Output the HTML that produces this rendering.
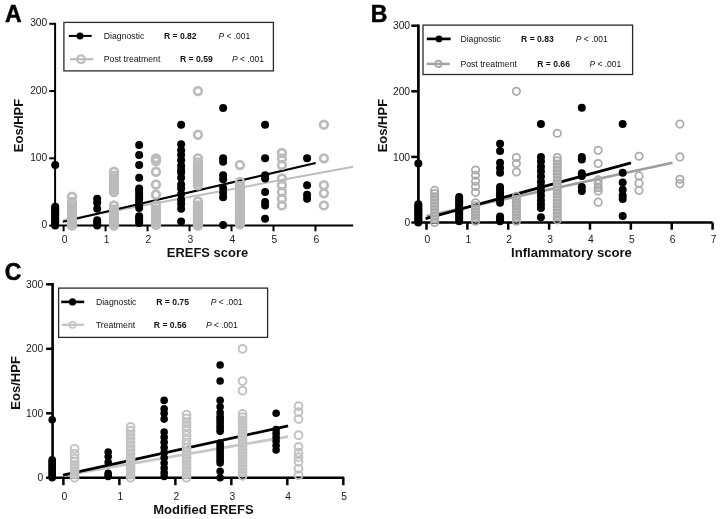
<!DOCTYPE html>
<html><head><meta charset="utf-8"><title>Figure</title>
<style>
html,body{margin:0;padding:0;background:#fff;}
body{width:720px;height:519px;overflow:hidden;}
svg{display:block;font-family:"Liberation Sans", sans-serif;will-change:transform;}
</style></head>
<body>
<svg width="720" height="519" viewBox="0 0 720 519">
<rect width="720" height="519" fill="#fff"/>
<g><text transform="translate(5,21.8) scale(1.0,1)" font-size="23" font-weight="bold" fill="#000" stroke="#000" stroke-width="0.5">A</text>
<line x1="55.1" y1="22.79" x2="55.1" y2="225.6" stroke="#000" stroke-width="2.0"/>
<line x1="49.2" y1="225.6" x2="55.1" y2="225.6" stroke="#000" stroke-width="2.0"/>
<text transform="translate(47.3,228.3) scale(1.03,1.0)" font-size="10.0" text-anchor="end" fill="#1a1a1a">0</text>
<line x1="49.2" y1="158.33" x2="55.1" y2="158.33" stroke="#000" stroke-width="2.0"/>
<text transform="translate(47.3,161.03) scale(1.03,1.0)" font-size="10.0" text-anchor="end" fill="#1a1a1a">100</text>
<line x1="49.2" y1="91.06" x2="55.1" y2="91.06" stroke="#000" stroke-width="2.0"/>
<text transform="translate(47.3,93.76) scale(1.03,1.0)" font-size="10.0" text-anchor="end" fill="#1a1a1a">200</text>
<line x1="49.2" y1="23.79" x2="55.1" y2="23.79" stroke="#000" stroke-width="2.0"/>
<text transform="translate(47.3,26.49) scale(1.03,1.0)" font-size="10.0" text-anchor="end" fill="#1a1a1a">300</text>
<line x1="54.1" y1="225.6" x2="353.2" y2="225.6" stroke="#000" stroke-width="2.0" stroke-linecap="butt"/>
<line x1="63.6" y1="225.6" x2="63.6" y2="231.3" stroke="#000" stroke-width="2.0"/>
<text transform="translate(64.5,242.7) scale(1.03,1.0)" font-size="10.0" text-anchor="middle" fill="#1a1a1a">0</text>
<line x1="105.58" y1="225.6" x2="105.58" y2="231.3" stroke="#000" stroke-width="2.0"/>
<text transform="translate(106.48,242.7) scale(1.03,1.0)" font-size="10.0" text-anchor="middle" fill="#1a1a1a">1</text>
<line x1="147.56" y1="225.6" x2="147.56" y2="231.3" stroke="#000" stroke-width="2.0"/>
<text transform="translate(148.46,242.7) scale(1.03,1.0)" font-size="10.0" text-anchor="middle" fill="#1a1a1a">2</text>
<line x1="189.54" y1="225.6" x2="189.54" y2="231.3" stroke="#000" stroke-width="2.0"/>
<text transform="translate(190.44,242.7) scale(1.03,1.0)" font-size="10.0" text-anchor="middle" fill="#1a1a1a">3</text>
<line x1="231.52" y1="225.6" x2="231.52" y2="231.3" stroke="#000" stroke-width="2.0"/>
<text transform="translate(232.42,242.7) scale(1.03,1.0)" font-size="10.0" text-anchor="middle" fill="#1a1a1a">4</text>
<line x1="273.5" y1="225.6" x2="273.5" y2="231.3" stroke="#000" stroke-width="2.0"/>
<text transform="translate(274.4,242.7) scale(1.03,1.0)" font-size="10.0" text-anchor="middle" fill="#1a1a1a">5</text>
<line x1="315.48" y1="225.6" x2="315.48" y2="231.3" stroke="#000" stroke-width="2.0"/>
<text transform="translate(316.38,242.7) scale(1.03,1.0)" font-size="10.0" text-anchor="middle" fill="#1a1a1a">6</text>
<text transform="translate(23.2,125.5) rotate(-90)" font-size="13.0" font-weight="bold" text-anchor="middle" fill="#111">Eos/HPF</text>
<text x="207.5" y="256.9" font-size="12.95" font-weight="bold" text-anchor="middle" fill="#111">EREFS score</text>
<line x1="63" y1="220.3" x2="353.2" y2="166.8" stroke="#bdbdbd" stroke-width="2.0"/>
<line x1="62.9" y1="221.8" x2="315.7" y2="163" stroke="#000" stroke-width="2.0"/>
<g fill="#000"><circle cx="55.2" cy="165.06" r="4.0"/><circle cx="55.2" cy="225.6" r="4.0"/><circle cx="55.2" cy="223.89" r="4.0"/><circle cx="55.2" cy="222.18" r="4.0"/><circle cx="55.2" cy="220.46" r="4.0"/><circle cx="55.2" cy="218.75" r="4.0"/><circle cx="55.2" cy="217.04" r="4.0"/><circle cx="55.2" cy="215.33" r="4.0"/><circle cx="55.2" cy="213.61" r="4.0"/><circle cx="55.2" cy="211.9" r="4.0"/><circle cx="55.2" cy="210.19" r="4.0"/><circle cx="55.2" cy="208.48" r="4.0"/><circle cx="55.2" cy="206.76" r="4.0"/><circle cx="97.18" cy="198.69" r="4.0"/><circle cx="97.18" cy="202.73" r="4.0"/><circle cx="97.18" cy="208.78" r="4.0"/><circle cx="97.18" cy="220.22" r="4.0"/><circle cx="97.18" cy="222.24" r="4.0"/><circle cx="97.18" cy="224.25" r="4.0"/><circle cx="97.18" cy="225.6" r="4.0"/><circle cx="139.16" cy="144.88" r="4.0"/><circle cx="139.16" cy="154.97" r="4.0"/><circle cx="139.16" cy="165.06" r="4.0"/><circle cx="139.16" cy="177.84" r="4.0"/><circle cx="139.16" cy="188.6" r="4.0"/><circle cx="139.16" cy="208.11" r="4.0"/><circle cx="139.16" cy="205.19" r="4.0"/><circle cx="139.16" cy="202.28" r="4.0"/><circle cx="139.16" cy="199.36" r="4.0"/><circle cx="139.16" cy="196.45" r="4.0"/><circle cx="139.16" cy="193.53" r="4.0"/><circle cx="139.16" cy="190.62" r="4.0"/><circle cx="139.16" cy="222.91" r="4.0"/><circle cx="139.16" cy="220.67" r="4.0"/><circle cx="139.16" cy="218.42" r="4.0"/><circle cx="139.16" cy="216.18" r="4.0"/><circle cx="181.14" cy="124.69" r="4.0"/><circle cx="181.14" cy="144.2" r="4.0"/><circle cx="181.14" cy="150.26" r="4.0"/><circle cx="181.14" cy="154.97" r="4.0"/><circle cx="181.14" cy="160.35" r="4.0"/><circle cx="181.14" cy="165.73" r="4.0"/><circle cx="181.14" cy="169.77" r="4.0"/><circle cx="181.14" cy="172.46" r="4.0"/><circle cx="181.14" cy="177.84" r="4.0"/><circle cx="181.14" cy="184.57" r="4.0"/><circle cx="181.14" cy="188.6" r="4.0"/><circle cx="181.14" cy="193.98" r="4.0"/><circle cx="181.14" cy="200.04" r="4.0"/><circle cx="181.14" cy="204.07" r="4.0"/><circle cx="181.14" cy="208.78" r="4.0"/><circle cx="181.14" cy="221.56" r="4.0"/><circle cx="223.12" cy="107.88" r="4.0"/><circle cx="223.12" cy="158.33" r="4.0"/><circle cx="223.12" cy="161.69" r="4.0"/><circle cx="223.12" cy="175.15" r="4.0"/><circle cx="223.12" cy="179.18" r="4.0"/><circle cx="223.12" cy="187.93" r="4.0"/><circle cx="223.12" cy="192.64" r="4.0"/><circle cx="223.12" cy="197.35" r="4.0"/><circle cx="223.12" cy="224.93" r="4.0"/><circle cx="265.1" cy="124.69" r="4.0"/><circle cx="265.1" cy="158.33" r="4.0"/><circle cx="265.1" cy="175.15" r="4.0"/><circle cx="265.1" cy="178.51" r="4.0"/><circle cx="265.1" cy="191.97" r="4.0"/><circle cx="265.1" cy="202.06" r="4.0"/><circle cx="265.1" cy="205.42" r="4.0"/><circle cx="265.1" cy="218.87" r="4.0"/><circle cx="307.08" cy="158.33" r="4.0"/><circle cx="307.08" cy="185.24" r="4.0"/><circle cx="307.08" cy="194.66" r="4.0"/><circle cx="307.08" cy="198.69" r="4.0"/></g>
<g fill="#cdcdcd"><rect x="68.15" y="205.91" width="7.7" height="19.69"/><rect x="110.13" y="209.27" width="7.7" height="16.33"/><rect x="110.13" y="175.63" width="7.7" height="16.33"/><rect x="152.11" y="209.27" width="7.7" height="15.66"/><rect x="194.09" y="205.23" width="7.7" height="20.37"/><rect x="194.09" y="162.18" width="7.7" height="23.06"/><rect x="236.07" y="185.72" width="7.7" height="38.53"/></g>
<g fill="none" stroke="#bbbbbb" stroke-width="2.7"><circle cx="72" cy="225.6" r="3.85"/><circle cx="72" cy="222.81" r="3.85"/><circle cx="72" cy="220.03" r="3.85"/><circle cx="72" cy="217.24" r="3.85"/><circle cx="72" cy="214.45" r="3.85"/><circle cx="72" cy="211.67" r="3.85"/><circle cx="72" cy="208.88" r="3.85"/><circle cx="72" cy="206.09" r="3.85"/><circle cx="72" cy="202.06" r="3.85"/><circle cx="72" cy="196.67" r="3.85"/><circle cx="113.98" cy="225.6" r="3.85"/><circle cx="113.98" cy="222.91" r="3.85"/><circle cx="113.98" cy="220.22" r="3.85"/><circle cx="113.98" cy="217.53" r="3.85"/><circle cx="113.98" cy="214.84" r="3.85"/><circle cx="113.98" cy="212.15" r="3.85"/><circle cx="113.98" cy="209.46" r="3.85"/><circle cx="113.98" cy="205.42" r="3.85"/><circle cx="113.98" cy="191.97" r="3.85"/><circle cx="113.98" cy="189.27" r="3.85"/><circle cx="113.98" cy="186.58" r="3.85"/><circle cx="113.98" cy="183.89" r="3.85"/><circle cx="113.98" cy="181.2" r="3.85"/><circle cx="113.98" cy="178.51" r="3.85"/><circle cx="113.98" cy="175.82" r="3.85"/><circle cx="113.98" cy="171.78" r="3.85"/><circle cx="155.96" cy="224.93" r="3.85"/><circle cx="155.96" cy="222.35" r="3.85"/><circle cx="155.96" cy="219.77" r="3.85"/><circle cx="155.96" cy="217.19" r="3.85"/><circle cx="155.96" cy="214.61" r="3.85"/><circle cx="155.96" cy="212.03" r="3.85"/><circle cx="155.96" cy="209.46" r="3.85"/><circle cx="155.96" cy="205.42" r="3.85"/><circle cx="155.96" cy="194.66" r="3.85"/><circle cx="155.96" cy="184.57" r="3.85"/><circle cx="155.96" cy="171.78" r="3.85"/><circle cx="155.96" cy="161.02" r="3.85"/><circle cx="155.96" cy="158.33" r="3.85"/><circle cx="197.94" cy="225.6" r="3.85"/><circle cx="197.94" cy="223.08" r="3.85"/><circle cx="197.94" cy="220.55" r="3.85"/><circle cx="197.94" cy="218.03" r="3.85"/><circle cx="197.94" cy="215.51" r="3.85"/><circle cx="197.94" cy="212.99" r="3.85"/><circle cx="197.94" cy="210.46" r="3.85"/><circle cx="197.94" cy="207.94" r="3.85"/><circle cx="197.94" cy="205.42" r="3.85"/><circle cx="197.94" cy="201.38" r="3.85"/><circle cx="197.94" cy="185.24" r="3.85"/><circle cx="197.94" cy="182.38" r="3.85"/><circle cx="197.94" cy="179.52" r="3.85"/><circle cx="197.94" cy="176.66" r="3.85"/><circle cx="197.94" cy="173.8" r="3.85"/><circle cx="197.94" cy="170.94" r="3.85"/><circle cx="197.94" cy="168.08" r="3.85"/><circle cx="197.94" cy="165.23" r="3.85"/><circle cx="197.94" cy="162.37" r="3.85"/><circle cx="197.94" cy="158.33" r="3.85"/><circle cx="197.94" cy="134.79" r="3.85"/><circle cx="197.94" cy="91.06" r="3.85"/><circle cx="239.92" cy="224.25" r="3.85"/><circle cx="239.92" cy="221.52" r="3.85"/><circle cx="239.92" cy="218.78" r="3.85"/><circle cx="239.92" cy="216.04" r="3.85"/><circle cx="239.92" cy="213.3" r="3.85"/><circle cx="239.92" cy="210.56" r="3.85"/><circle cx="239.92" cy="207.82" r="3.85"/><circle cx="239.92" cy="205.08" r="3.85"/><circle cx="239.92" cy="202.34" r="3.85"/><circle cx="239.92" cy="199.6" r="3.85"/><circle cx="239.92" cy="196.87" r="3.85"/><circle cx="239.92" cy="194.13" r="3.85"/><circle cx="239.92" cy="191.39" r="3.85"/><circle cx="239.92" cy="188.65" r="3.85"/><circle cx="239.92" cy="185.91" r="3.85"/><circle cx="239.92" cy="181.87" r="3.85"/><circle cx="239.92" cy="165.06" r="3.85"/><circle cx="281.9" cy="205.42" r="3.85"/><circle cx="281.9" cy="198.69" r="3.85"/><circle cx="281.9" cy="191.97" r="3.85"/><circle cx="281.9" cy="185.24" r="3.85"/><circle cx="281.9" cy="178.51" r="3.85"/><circle cx="281.9" cy="165.06" r="3.85"/><circle cx="281.9" cy="158.33" r="3.85"/><circle cx="281.9" cy="152.95" r="3.85"/><circle cx="323.88" cy="205.42" r="3.85"/><circle cx="323.88" cy="193.31" r="3.85"/><circle cx="323.88" cy="185.24" r="3.85"/><circle cx="323.88" cy="158.33" r="3.85"/><circle cx="323.88" cy="124.69" r="3.85"/></g>
<rect x="63.9" y="22.4" width="209.5" height="48.5" fill="#fff" stroke="#2a2a2a" stroke-width="1.3"/>
<line x1="68.8" y1="35.9" x2="91.7" y2="35.9" stroke="#000" stroke-width="2.0"/>
<circle cx="80" cy="35.9" r="3.5" fill="#000"/>
<text x="103.8" y="39" font-size="8.7" fill="#111">Diagnostic</text>
<text x="163.9" y="39" font-size="8.6" font-weight="bold" fill="#111">R = 0.82</text>
<text x="218.4" y="39" font-size="8.5" fill="#111"><tspan font-style="italic">P</tspan> &lt; .001</text>
<line x1="70" y1="59.2" x2="93" y2="59.2" stroke="#bcbcbc" stroke-width="2.2"/>
<circle cx="81" cy="59.2" r="3.85" fill="none" stroke="#bcbcbc" stroke-width="2.3"/>
<text x="103.8" y="61.8" font-size="8.7" fill="#111">Post treatment</text>
<text x="180" y="61.8" font-size="8.6" font-weight="bold" fill="#111">R = 0.59</text>
<text x="232" y="61.8" font-size="8.5" fill="#111"><tspan font-style="italic">P</tspan> &lt; .001</text></g>
<g><text transform="translate(370.8,21.5) scale(1.0,1)" font-size="23" font-weight="bold" fill="#000" stroke="#000" stroke-width="0.5">B</text>
<line x1="418.4" y1="24.45" x2="418.4" y2="222.5" stroke="#000" stroke-width="2.7"/>
<line x1="411.3" y1="222.5" x2="418.4" y2="222.5" stroke="#000" stroke-width="2.5"/>
<text transform="translate(410.1,226.2) scale(1.03,1.0)" font-size="10.0" text-anchor="end" fill="#1a1a1a">0</text>
<line x1="411.3" y1="156.9" x2="418.4" y2="156.9" stroke="#000" stroke-width="2.5"/>
<text transform="translate(410.1,160.6) scale(1.03,1.0)" font-size="10.0" text-anchor="end" fill="#1a1a1a">100</text>
<line x1="411.3" y1="91.3" x2="418.4" y2="91.3" stroke="#000" stroke-width="2.5"/>
<text transform="translate(410.1,95) scale(1.03,1.0)" font-size="10.0" text-anchor="end" fill="#1a1a1a">200</text>
<line x1="411.3" y1="25.7" x2="418.4" y2="25.7" stroke="#000" stroke-width="2.5"/>
<text transform="translate(410.1,29.4) scale(1.03,1.0)" font-size="10.0" text-anchor="end" fill="#1a1a1a">300</text>
<line x1="417.05" y1="222.5" x2="712.6" y2="222.5" stroke="#000" stroke-width="2.7" stroke-linecap="butt"/>
<line x1="426.5" y1="222.5" x2="426.5" y2="229.7" stroke="#000" stroke-width="2.5"/>
<text transform="translate(427.4,242.7) scale(1.03,1.0)" font-size="10.0" text-anchor="middle" fill="#1a1a1a">0</text>
<line x1="467.37" y1="222.5" x2="467.37" y2="229.7" stroke="#000" stroke-width="2.5"/>
<text transform="translate(468.27,242.7) scale(1.03,1.0)" font-size="10.0" text-anchor="middle" fill="#1a1a1a">1</text>
<line x1="508.24" y1="222.5" x2="508.24" y2="229.7" stroke="#000" stroke-width="2.5"/>
<text transform="translate(509.14,242.7) scale(1.03,1.0)" font-size="10.0" text-anchor="middle" fill="#1a1a1a">2</text>
<line x1="549.11" y1="222.5" x2="549.11" y2="229.7" stroke="#000" stroke-width="2.5"/>
<text transform="translate(550.01,242.7) scale(1.03,1.0)" font-size="10.0" text-anchor="middle" fill="#1a1a1a">3</text>
<line x1="589.98" y1="222.5" x2="589.98" y2="229.7" stroke="#000" stroke-width="2.5"/>
<text transform="translate(590.88,242.7) scale(1.03,1.0)" font-size="10.0" text-anchor="middle" fill="#1a1a1a">4</text>
<line x1="630.85" y1="222.5" x2="630.85" y2="229.7" stroke="#000" stroke-width="2.5"/>
<text transform="translate(631.75,242.7) scale(1.03,1.0)" font-size="10.0" text-anchor="middle" fill="#1a1a1a">5</text>
<line x1="671.72" y1="222.5" x2="671.72" y2="229.7" stroke="#000" stroke-width="2.5"/>
<text transform="translate(672.62,242.7) scale(1.03,1.0)" font-size="10.0" text-anchor="middle" fill="#1a1a1a">6</text>
<line x1="712.59" y1="222.5" x2="712.59" y2="229.7" stroke="#000" stroke-width="2.5"/>
<text transform="translate(713.49,242.7) scale(1.03,1.0)" font-size="10.0" text-anchor="middle" fill="#1a1a1a">7</text>
<text transform="translate(387.3,125.6) rotate(-90)" font-size="13.0" font-weight="bold" text-anchor="middle" fill="#111">Eos/HPF</text>
<text x="571.5" y="256.6" font-size="13.1" font-weight="bold" text-anchor="middle" fill="#111">Inflammatory score</text>
<line x1="426.6" y1="216" x2="672.5" y2="162.8" stroke="#9e9e9e" stroke-width="2.7"/>
<line x1="425.6" y1="218.6" x2="631" y2="162.9" stroke="#000" stroke-width="2.7"/>
<g fill="#000"><circle cx="418.33" cy="163.46" r="4.0"/><circle cx="418.33" cy="222.5" r="4.0"/><circle cx="418.33" cy="220.83" r="4.0"/><circle cx="418.33" cy="219.16" r="4.0"/><circle cx="418.33" cy="217.49" r="4.0"/><circle cx="418.33" cy="215.82" r="4.0"/><circle cx="418.33" cy="214.15" r="4.0"/><circle cx="418.33" cy="212.48" r="4.0"/><circle cx="418.33" cy="210.81" r="4.0"/><circle cx="418.33" cy="209.14" r="4.0"/><circle cx="418.33" cy="207.47" r="4.0"/><circle cx="418.33" cy="205.8" r="4.0"/><circle cx="418.33" cy="204.13" r="4.0"/><circle cx="459.2" cy="221.19" r="4.0"/><circle cx="459.2" cy="218.98" r="4.0"/><circle cx="459.2" cy="216.77" r="4.0"/><circle cx="459.2" cy="214.57" r="4.0"/><circle cx="459.2" cy="212.36" r="4.0"/><circle cx="459.2" cy="210.16" r="4.0"/><circle cx="459.2" cy="207.95" r="4.0"/><circle cx="459.2" cy="205.74" r="4.0"/><circle cx="459.2" cy="203.54" r="4.0"/><circle cx="459.2" cy="201.33" r="4.0"/><circle cx="459.2" cy="199.12" r="4.0"/><circle cx="459.2" cy="196.92" r="4.0"/><circle cx="500.07" cy="143.78" r="4.0"/><circle cx="500.07" cy="151" r="4.0"/><circle cx="500.07" cy="162.8" r="4.0"/><circle cx="500.07" cy="168.05" r="4.0"/><circle cx="500.07" cy="172.64" r="4.0"/><circle cx="500.07" cy="202.82" r="4.0"/><circle cx="500.07" cy="200.2" r="4.0"/><circle cx="500.07" cy="197.57" r="4.0"/><circle cx="500.07" cy="194.95" r="4.0"/><circle cx="500.07" cy="192.32" r="4.0"/><circle cx="500.07" cy="189.7" r="4.0"/><circle cx="500.07" cy="187.08" r="4.0"/><circle cx="500.07" cy="216.6" r="4.0"/><circle cx="500.07" cy="219.22" r="4.0"/><circle cx="500.07" cy="221.19" r="4.0"/><circle cx="540.94" cy="124.1" r="4.0"/><circle cx="540.94" cy="156.9" r="4.0"/><circle cx="540.94" cy="161.49" r="4.0"/><circle cx="540.94" cy="166.74" r="4.0"/><circle cx="540.94" cy="171.33" r="4.0"/><circle cx="540.94" cy="176.58" r="4.0"/><circle cx="540.94" cy="181.83" r="4.0"/><circle cx="540.94" cy="186.42" r="4.0"/><circle cx="540.94" cy="191.01" r="4.0"/><circle cx="540.94" cy="195.6" r="4.0"/><circle cx="540.94" cy="200.2" r="4.0"/><circle cx="540.94" cy="204.13" r="4.0"/><circle cx="540.94" cy="208.07" r="4.0"/><circle cx="540.94" cy="217.25" r="4.0"/><circle cx="581.81" cy="107.7" r="4.0"/><circle cx="581.81" cy="156.9" r="4.0"/><circle cx="581.81" cy="159.52" r="4.0"/><circle cx="581.81" cy="173.3" r="4.0"/><circle cx="581.81" cy="175.92" r="4.0"/><circle cx="581.81" cy="187.08" r="4.0"/><circle cx="581.81" cy="191.01" r="4.0"/><circle cx="622.68" cy="124.1" r="4.0"/><circle cx="622.68" cy="172.64" r="4.0"/><circle cx="622.68" cy="182.48" r="4.0"/><circle cx="622.68" cy="189.7" r="4.0"/><circle cx="622.68" cy="195.6" r="4.0"/><circle cx="622.68" cy="198.88" r="4.0"/><circle cx="622.68" cy="215.94" r="4.0"/></g>
<g fill="#c8c8c8"><rect x="430.97" y="194.06" width="7.4" height="28.44"/><rect x="471.84" y="206.52" width="7.4" height="14.67"/><rect x="512.71" y="199.96" width="7.4" height="21.23"/><rect x="553.58" y="161.26" width="7.4" height="58.62"/><rect x="594.45" y="183.56" width="7.4" height="7.45"/></g>
<g fill="none" stroke="#aaaaaa" stroke-width="1.75"><circle cx="434.67" cy="222.5" r="3.7"/><circle cx="434.67" cy="219.29" r="3.7"/><circle cx="434.67" cy="216.07" r="3.7"/><circle cx="434.67" cy="212.86" r="3.7"/><circle cx="434.67" cy="209.64" r="3.7"/><circle cx="434.67" cy="206.43" r="3.7"/><circle cx="434.67" cy="203.21" r="3.7"/><circle cx="434.67" cy="200" r="3.7"/><circle cx="434.67" cy="196.78" r="3.7"/><circle cx="434.67" cy="193.57" r="3.7"/><circle cx="434.67" cy="190.36" r="3.7"/><circle cx="475.54" cy="221.19" r="3.7"/><circle cx="475.54" cy="218.13" r="3.7"/><circle cx="475.54" cy="215.07" r="3.7"/><circle cx="475.54" cy="212" r="3.7"/><circle cx="475.54" cy="208.94" r="3.7"/><circle cx="475.54" cy="205.88" r="3.7"/><circle cx="475.54" cy="202.82" r="3.7"/><circle cx="475.54" cy="192.32" r="3.7"/><circle cx="475.54" cy="186.42" r="3.7"/><circle cx="475.54" cy="181.17" r="3.7"/><circle cx="475.54" cy="175.27" r="3.7"/><circle cx="475.54" cy="170.02" r="3.7"/><circle cx="516.41" cy="221.19" r="3.7"/><circle cx="516.41" cy="218.07" r="3.7"/><circle cx="516.41" cy="214.96" r="3.7"/><circle cx="516.41" cy="211.84" r="3.7"/><circle cx="516.41" cy="208.72" r="3.7"/><circle cx="516.41" cy="205.61" r="3.7"/><circle cx="516.41" cy="202.49" r="3.7"/><circle cx="516.41" cy="199.38" r="3.7"/><circle cx="516.41" cy="196.26" r="3.7"/><circle cx="516.41" cy="171.99" r="3.7"/><circle cx="516.41" cy="163.46" r="3.7"/><circle cx="516.41" cy="157.56" r="3.7"/><circle cx="516.41" cy="91.3" r="3.7"/><circle cx="557.28" cy="219.88" r="3.7"/><circle cx="557.28" cy="216.6" r="3.7"/><circle cx="557.28" cy="213.32" r="3.7"/><circle cx="557.28" cy="210.04" r="3.7"/><circle cx="557.28" cy="206.76" r="3.7"/><circle cx="557.28" cy="203.48" r="3.7"/><circle cx="557.28" cy="200.2" r="3.7"/><circle cx="557.28" cy="196.92" r="3.7"/><circle cx="557.28" cy="193.64" r="3.7"/><circle cx="557.28" cy="190.36" r="3.7"/><circle cx="557.28" cy="187.08" r="3.7"/><circle cx="557.28" cy="183.8" r="3.7"/><circle cx="557.28" cy="180.52" r="3.7"/><circle cx="557.28" cy="177.24" r="3.7"/><circle cx="557.28" cy="173.96" r="3.7"/><circle cx="557.28" cy="170.68" r="3.7"/><circle cx="557.28" cy="167.4" r="3.7"/><circle cx="557.28" cy="164.12" r="3.7"/><circle cx="557.28" cy="160.84" r="3.7"/><circle cx="557.28" cy="157.56" r="3.7"/><circle cx="557.28" cy="133.28" r="3.7"/><circle cx="598.15" cy="202.16" r="3.7"/><circle cx="598.15" cy="191.01" r="3.7"/><circle cx="598.15" cy="187.73" r="3.7"/><circle cx="598.15" cy="183.8" r="3.7"/><circle cx="598.15" cy="179.86" r="3.7"/><circle cx="598.15" cy="163.46" r="3.7"/><circle cx="598.15" cy="150.34" r="3.7"/><circle cx="639.02" cy="190.36" r="3.7"/><circle cx="639.02" cy="183.14" r="3.7"/><circle cx="639.02" cy="175.92" r="3.7"/><circle cx="639.02" cy="156.24" r="3.7"/><circle cx="679.89" cy="183.8" r="3.7"/><circle cx="679.89" cy="179.2" r="3.7"/><circle cx="679.89" cy="156.9" r="3.7"/><circle cx="679.89" cy="124.1" r="3.7"/></g>
<rect x="423" y="25.1" width="209.6" height="49.4" fill="#fff" stroke="#2a2a2a" stroke-width="1.3"/>
<line x1="426.8" y1="38.9" x2="450.7" y2="38.9" stroke="#000" stroke-width="2.7"/>
<circle cx="439" cy="38.9" r="3.4" fill="#000"/>
<text x="460.4" y="42" font-size="8.7" fill="#111">Diagnostic</text>
<text x="521.1" y="42" font-size="8.6" font-weight="bold" fill="#111">R = 0.83</text>
<text x="575.8" y="42" font-size="8.5" fill="#111"><tspan font-style="italic">P</tspan> &lt; .001</text>
<line x1="426.7" y1="63.9" x2="449.8" y2="63.9" stroke="#a4a4a4" stroke-width="2.5"/>
<circle cx="438.4" cy="63.9" r="3.3" fill="none" stroke="#a4a4a4" stroke-width="1.8"/>
<text x="460.4" y="67" font-size="8.7" fill="#111">Post treatment</text>
<text x="537.2" y="67" font-size="8.6" font-weight="bold" fill="#111">R = 0.66</text>
<text x="589.4" y="67" font-size="8.5" fill="#111"><tspan font-style="italic">P</tspan> &lt; .001</text></g>
<g><text transform="translate(4.8,279.6) scale(1.0,1)" font-size="23" font-weight="bold" fill="#000" stroke="#000" stroke-width="0.5">C</text>
<line x1="52.6" y1="283.05" x2="52.6" y2="477.8" stroke="#000" stroke-width="2.6"/>
<line x1="46.1" y1="477.8" x2="52.6" y2="477.8" stroke="#000" stroke-width="2.5"/>
<text transform="translate(43.2,481.3) scale(1.03,1.0)" font-size="10.0" text-anchor="end" fill="#1a1a1a">0</text>
<line x1="46.1" y1="413.3" x2="52.6" y2="413.3" stroke="#000" stroke-width="2.5"/>
<text transform="translate(43.2,416.8) scale(1.03,1.0)" font-size="10.0" text-anchor="end" fill="#1a1a1a">100</text>
<line x1="46.1" y1="348.8" x2="52.6" y2="348.8" stroke="#000" stroke-width="2.5"/>
<text transform="translate(43.2,352.3) scale(1.03,1.0)" font-size="10.0" text-anchor="end" fill="#1a1a1a">200</text>
<line x1="46.1" y1="284.3" x2="52.6" y2="284.3" stroke="#000" stroke-width="2.5"/>
<text transform="translate(43.2,287.8) scale(1.03,1.0)" font-size="10.0" text-anchor="end" fill="#1a1a1a">300</text>
<line x1="51.3" y1="477.8" x2="344.3" y2="477.8" stroke="#000" stroke-width="2.6" stroke-linecap="butt"/>
<line x1="63.4" y1="477.8" x2="63.4" y2="485.2" stroke="#000" stroke-width="2.5"/>
<text transform="translate(64.3,499.8) scale(1.03,1.0)" font-size="10.0" text-anchor="middle" fill="#1a1a1a">0</text>
<line x1="119.38" y1="477.8" x2="119.38" y2="485.2" stroke="#000" stroke-width="2.5"/>
<text transform="translate(120.28,499.8) scale(1.03,1.0)" font-size="10.0" text-anchor="middle" fill="#1a1a1a">1</text>
<line x1="175.36" y1="477.8" x2="175.36" y2="485.2" stroke="#000" stroke-width="2.5"/>
<text transform="translate(176.26,499.8) scale(1.03,1.0)" font-size="10.0" text-anchor="middle" fill="#1a1a1a">2</text>
<line x1="231.34" y1="477.8" x2="231.34" y2="485.2" stroke="#000" stroke-width="2.5"/>
<text transform="translate(232.24,499.8) scale(1.03,1.0)" font-size="10.0" text-anchor="middle" fill="#1a1a1a">3</text>
<line x1="287.32" y1="477.8" x2="287.32" y2="485.2" stroke="#000" stroke-width="2.5"/>
<text transform="translate(288.22,499.8) scale(1.03,1.0)" font-size="10.0" text-anchor="middle" fill="#1a1a1a">4</text>
<line x1="343.3" y1="477.8" x2="343.3" y2="485.2" stroke="#000" stroke-width="2.5"/>
<text transform="translate(344.2,499.8) scale(1.03,1.0)" font-size="10.0" text-anchor="middle" fill="#1a1a1a">5</text>
<text transform="translate(19.8,382.9) rotate(-90)" font-size="13.0" font-weight="bold" text-anchor="middle" fill="#111">Eos/HPF</text>
<text x="203.4" y="514.3" font-size="13.0" font-weight="bold" text-anchor="middle" fill="#111">Modified EREFS</text>
<line x1="63.8" y1="475.4" x2="288.1" y2="436.6" stroke="#c8c8c8" stroke-width="2.8"/>
<line x1="62.9" y1="475.2" x2="288.1" y2="425.9" stroke="#000" stroke-width="2.8"/>
<g fill="#000"><circle cx="52.2" cy="419.75" r="3.8"/><circle cx="52.2" cy="477.8" r="3.8"/><circle cx="52.2" cy="476.16" r="3.8"/><circle cx="52.2" cy="474.52" r="3.8"/><circle cx="52.2" cy="472.87" r="3.8"/><circle cx="52.2" cy="471.23" r="3.8"/><circle cx="52.2" cy="469.59" r="3.8"/><circle cx="52.2" cy="467.95" r="3.8"/><circle cx="52.2" cy="466.31" r="3.8"/><circle cx="52.2" cy="464.67" r="3.8"/><circle cx="52.2" cy="463.02" r="3.8"/><circle cx="52.2" cy="461.38" r="3.8"/><circle cx="52.2" cy="459.74" r="3.8"/><circle cx="108.18" cy="452" r="3.8"/><circle cx="108.18" cy="456.51" r="3.8"/><circle cx="108.18" cy="462.32" r="3.8"/><circle cx="108.18" cy="473.29" r="3.8"/><circle cx="108.18" cy="475.22" r="3.8"/><circle cx="108.18" cy="476.51" r="3.8"/><circle cx="164.16" cy="400.4" r="3.8"/><circle cx="164.16" cy="408.79" r="3.8"/><circle cx="164.16" cy="413.3" r="3.8"/><circle cx="164.16" cy="419.11" r="3.8"/><circle cx="164.16" cy="432" r="3.8"/><circle cx="164.16" cy="437.17" r="3.8"/><circle cx="164.16" cy="442.32" r="3.8"/><circle cx="164.16" cy="447.49" r="3.8"/><circle cx="164.16" cy="452.64" r="3.8"/><circle cx="164.16" cy="457.81" r="3.8"/><circle cx="164.16" cy="462.97" r="3.8"/><circle cx="164.16" cy="468.12" r="3.8"/><circle cx="164.16" cy="472.64" r="3.8"/><circle cx="164.16" cy="476.51" r="3.8"/><circle cx="220.14" cy="364.93" r="3.8"/><circle cx="220.14" cy="381.05" r="3.8"/><circle cx="220.14" cy="400.4" r="3.8"/><circle cx="220.14" cy="406.85" r="3.8"/><circle cx="220.14" cy="412.66" r="3.8"/><circle cx="220.14" cy="416.53" r="3.8"/><circle cx="220.14" cy="431.36" r="3.8"/><circle cx="220.14" cy="428.78" r="3.8"/><circle cx="220.14" cy="426.2" r="3.8"/><circle cx="220.14" cy="423.62" r="3.8"/><circle cx="220.14" cy="421.04" r="3.8"/><circle cx="220.14" cy="418.46" r="3.8"/><circle cx="220.14" cy="462.97" r="3.8"/><circle cx="220.14" cy="460.47" r="3.8"/><circle cx="220.14" cy="457.97" r="3.8"/><circle cx="220.14" cy="455.47" r="3.8"/><circle cx="220.14" cy="452.97" r="3.8"/><circle cx="220.14" cy="450.47" r="3.8"/><circle cx="220.14" cy="447.97" r="3.8"/><circle cx="220.14" cy="445.47" r="3.8"/><circle cx="220.14" cy="442.97" r="3.8"/><circle cx="220.14" cy="471.35" r="3.8"/><circle cx="220.14" cy="477.8" r="3.8"/><circle cx="276.12" cy="413.3" r="3.8"/><circle cx="276.12" cy="429.43" r="3.8"/><circle cx="276.12" cy="433.3" r="3.8"/><circle cx="276.12" cy="437.17" r="3.8"/><circle cx="276.12" cy="441.04" r="3.8"/><circle cx="276.12" cy="445.55" r="3.8"/><circle cx="276.12" cy="450.06" r="3.8"/></g>
<g fill="#d2d2d2"><rect x="70.7" y="462.35" width="7.8" height="15.45"/><rect x="126.68" y="430.75" width="7.8" height="47.06"/><rect x="182.66" y="448.16" width="7.8" height="29.64"/><rect x="182.66" y="418.49" width="7.8" height="7.71"/><rect x="238.64" y="417.84" width="7.8" height="58.02"/></g>
<g fill="none" stroke="#c2c2c2" stroke-width="1.95"><circle cx="74.6" cy="477.8" r="3.9"/><circle cx="74.6" cy="474.57" r="3.9"/><circle cx="74.6" cy="471.35" r="3.9"/><circle cx="74.6" cy="468.12" r="3.9"/><circle cx="74.6" cy="464.9" r="3.9"/><circle cx="74.6" cy="461.68" r="3.9"/><circle cx="74.6" cy="458.45" r="3.9"/><circle cx="74.6" cy="453.94" r="3.9"/><circle cx="74.6" cy="448.78" r="3.9"/><circle cx="130.58" cy="477.8" r="3.9"/><circle cx="130.58" cy="474.68" r="3.9"/><circle cx="130.58" cy="471.56" r="3.9"/><circle cx="130.58" cy="468.45" r="3.9"/><circle cx="130.58" cy="465.33" r="3.9"/><circle cx="130.58" cy="462.21" r="3.9"/><circle cx="130.58" cy="459.1" r="3.9"/><circle cx="130.58" cy="457.81" r="3.9"/><circle cx="130.58" cy="453.94" r="3.9"/><circle cx="130.58" cy="450.06" r="3.9"/><circle cx="130.58" cy="446.19" r="3.9"/><circle cx="130.58" cy="442.32" r="3.9"/><circle cx="130.58" cy="438.46" r="3.9"/><circle cx="130.58" cy="434.59" r="3.9"/><circle cx="130.58" cy="430.72" r="3.9"/><circle cx="130.58" cy="426.85" r="3.9"/><circle cx="186.56" cy="477.8" r="3.9"/><circle cx="186.56" cy="474.5" r="3.9"/><circle cx="186.56" cy="471.21" r="3.9"/><circle cx="186.56" cy="467.91" r="3.9"/><circle cx="186.56" cy="464.61" r="3.9"/><circle cx="186.56" cy="461.32" r="3.9"/><circle cx="186.56" cy="458.02" r="3.9"/><circle cx="186.56" cy="454.72" r="3.9"/><circle cx="186.56" cy="451.43" r="3.9"/><circle cx="186.56" cy="448.13" r="3.9"/><circle cx="186.56" cy="444.26" r="3.9"/><circle cx="186.56" cy="439.75" r="3.9"/><circle cx="186.56" cy="435.23" r="3.9"/><circle cx="186.56" cy="430.72" r="3.9"/><circle cx="186.56" cy="426.2" r="3.9"/><circle cx="186.56" cy="422.33" r="3.9"/><circle cx="186.56" cy="418.46" r="3.9"/><circle cx="186.56" cy="414.59" r="3.9"/><circle cx="242.54" cy="475.87" r="3.9"/><circle cx="242.54" cy="472.61" r="3.9"/><circle cx="242.54" cy="469.35" r="3.9"/><circle cx="242.54" cy="466.09" r="3.9"/><circle cx="242.54" cy="462.83" r="3.9"/><circle cx="242.54" cy="459.57" r="3.9"/><circle cx="242.54" cy="456.31" r="3.9"/><circle cx="242.54" cy="453.05" r="3.9"/><circle cx="242.54" cy="449.79" r="3.9"/><circle cx="242.54" cy="446.53" r="3.9"/><circle cx="242.54" cy="443.28" r="3.9"/><circle cx="242.54" cy="440.02" r="3.9"/><circle cx="242.54" cy="436.76" r="3.9"/><circle cx="242.54" cy="433.5" r="3.9"/><circle cx="242.54" cy="430.24" r="3.9"/><circle cx="242.54" cy="426.98" r="3.9"/><circle cx="242.54" cy="423.72" r="3.9"/><circle cx="242.54" cy="420.46" r="3.9"/><circle cx="242.54" cy="417.2" r="3.9"/><circle cx="242.54" cy="413.94" r="3.9"/><circle cx="242.54" cy="390.73" r="3.9"/><circle cx="242.54" cy="381.05" r="3.9"/><circle cx="242.54" cy="348.8" r="3.9"/><circle cx="298.52" cy="475.22" r="3.9"/><circle cx="298.52" cy="468.77" r="3.9"/><circle cx="298.52" cy="461.68" r="3.9"/><circle cx="298.52" cy="457.16" r="3.9"/><circle cx="298.52" cy="452.64" r="3.9"/><circle cx="298.52" cy="446.84" r="3.9"/><circle cx="298.52" cy="435.23" r="3.9"/><circle cx="298.52" cy="419.11" r="3.9"/><circle cx="298.52" cy="412.01" r="3.9"/><circle cx="298.52" cy="406.21" r="3.9"/></g>
<rect x="58.6" y="288.1" width="209" height="49.3" fill="#fff" stroke="#2a2a2a" stroke-width="1.3"/>
<line x1="61.2" y1="301.9" x2="84.2" y2="301.9" stroke="#000" stroke-width="2.6"/>
<circle cx="72.5" cy="301.9" r="3.6" fill="#000"/>
<text x="95.9" y="305" font-size="8.7" fill="#111">Diagnostic</text>
<text x="156.2" y="305" font-size="8.6" font-weight="bold" fill="#111">R = 0.75</text>
<text x="210.7" y="305" font-size="8.5" fill="#111"><tspan font-style="italic">P</tspan> &lt; .001</text>
<line x1="61.8" y1="324.8" x2="84.2" y2="324.8" stroke="#c8c8c8" stroke-width="2.5"/>
<circle cx="72.5" cy="324.8" r="3.2" fill="none" stroke="#c8c8c8" stroke-width="1.7"/>
<text x="95.9" y="328" font-size="8.7" fill="#111">Treatment</text>
<text x="153.8" y="328" font-size="8.6" font-weight="bold" fill="#111">R = 0.56</text>
<text x="205.9" y="328" font-size="8.5" fill="#111"><tspan font-style="italic">P</tspan> &lt; .001</text></g>
</svg>
</body></html>
